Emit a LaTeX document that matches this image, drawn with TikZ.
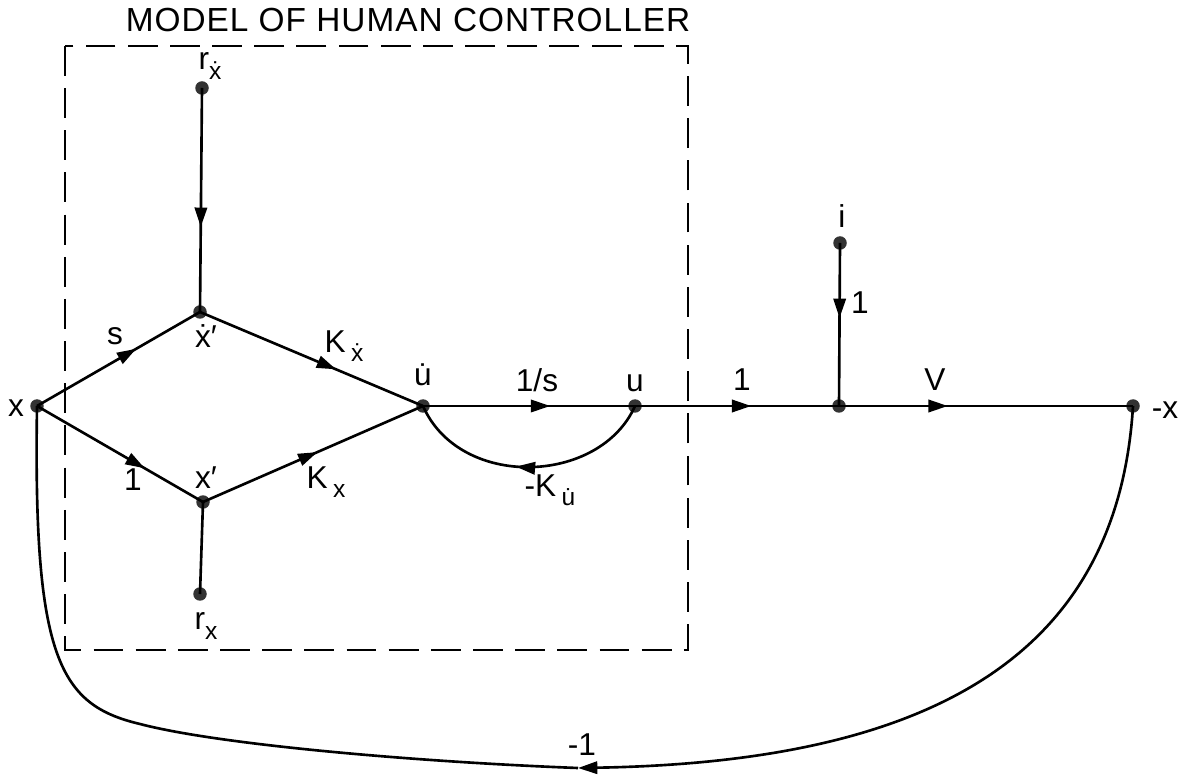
\documentclass[tikz,border=0pt]{standalone}
\usepackage{fontspec}
\setmainfont{Liberation Sans}
\newfontfamily\titlefont[LetterSpace=3]{Liberation Sans}
\usetikzlibrary{arrows.meta,decorations.markings}
\newcommand\lsub[1]{\raisebox{-0.55ex}{\fontsize{14}{14}\selectfont #1}}
\newcommand\tck{′}
\begin{document}
\begin{tikzpicture}[x=0.02cm,y=-0.02cm,
  dot/.style={circle,fill=black!80,inner sep=0pt,minimum size=0.27cm},
  lab/.style={inner sep=0pt,font=\fontsize{18}{18}\selectfont},
  wire/.style={line width=1.5pt},
  mid/.style={postaction={decorate},decoration={markings,mark=at position #1 with {\arrow{Triangle[length=11pt,width=7pt]}}}},
  dashbox/.style={line width=1.6pt,dash pattern=on 17pt off 7pt}]
\useasboundingbox (0,0) rectangle (1183,776);

% dashed box and title
\draw[dashbox] (65,46) rectangle (688,650);
\node[inner sep=0pt,font=\titlefont\fontsize{19}{19}\selectfont] (title) at (408,20) {MODEL OF HUMAN CONTROLLER};

% nodes
\node[dot] (nx) at (37,406) {};
\node[dot] (nxd) at (200,312) {};
\node[dot] (nxp) at (203,502) {};
\node[dot] (nrxd) at (202,88) {};
\node[dot] (nrx) at (200,594) {};
\node[dot] (nud) at (423,406) {};
\node[dot] (nu) at (635,406) {};
\node[dot] (nj) at (839,406) {};
\node[dot] (ni) at (840,243) {};
\node[dot] (nmx) at (1133,406) {};
\coordinate (bot) at (578,768);
\coordinate (bend) at (140,724);

% connectors
\draw[wire,mid=0.61] (nx.center) -- (nxd.center);
\draw[wire,mid=0.65] (nx.center) -- (nxp.center);
\draw[wire,mid=0.61] (nxd.center) -- (nud.center);
\draw[wire,mid=0.52] (nxp.center) -- (nud.center);
\draw[wire,mid=0.62] (nrxd.center) -- (nxd.center);
\draw[wire] (nrx.center) -- (nxp.center);
\draw[wire,mid=0.6] (nud.center) -- (nu.center);
\draw[wire,mid=0.55] (nu.center) .. controls (600,485) and (460,490) .. (nud.center);
\draw[wire,mid=0.57] (nu.center) -- (nj.center);
\draw[wire,mid=0.46] (ni.center) -- (nj.center);
\draw[wire,mid=0.37] (nj.center) -- (nmx.center);
\draw[wire,-{Triangle[length=11pt,width=7pt]}] (nmx.center) .. controls (1118,650) and (940,762) .. (bot);
\draw[wire] (bot) .. controls (420,762) and (220,745) .. (bend) .. controls (60,705) and (33,660) .. (nx.center);

% labels
\node[lab] (lx) at (16,408) {x};
\node[lab] (ls) at (115,336) {s};
\node[lab] (lxd) at (206,336) {\.{x}\tck};
\node[lab] (lkxd) at (344,346) {K\,\lsub{\.{x}}};
\node[lab] (lud) at (423,375) {\.{u}};
\node[lab] (l1a) at (133,480) {1};
\node[lab] (lxp) at (206,478) {x\tck};
\node[lab] (lkx) at (326,482) {K\,\lsub{x}};
\node[lab] (l1s) at (537,380) {1/s};
\node[lab] (lu) at (635,383) {u};
\node[lab] (l1b) at (742,380) {1};
\node[lab] (l1c) at (860,303) {1};
\node[lab] (lv) at (935,380) {V};
\node[lab] (lmx) at (1165,410) {-x};
\node[lab] (li) at (842,216) {i};
\node[lab] (lrxd) at (210,66) {r\lsub{\.{x}}};
\node[lab] (lrx) at (206,626) {r\lsub{x}};
\node[lab] (lku) at (550,490) {-K\,\lsub{\.{u}}};
\node[lab] (lm1) at (582,745) {-1};
\end{tikzpicture}
\end{document}
